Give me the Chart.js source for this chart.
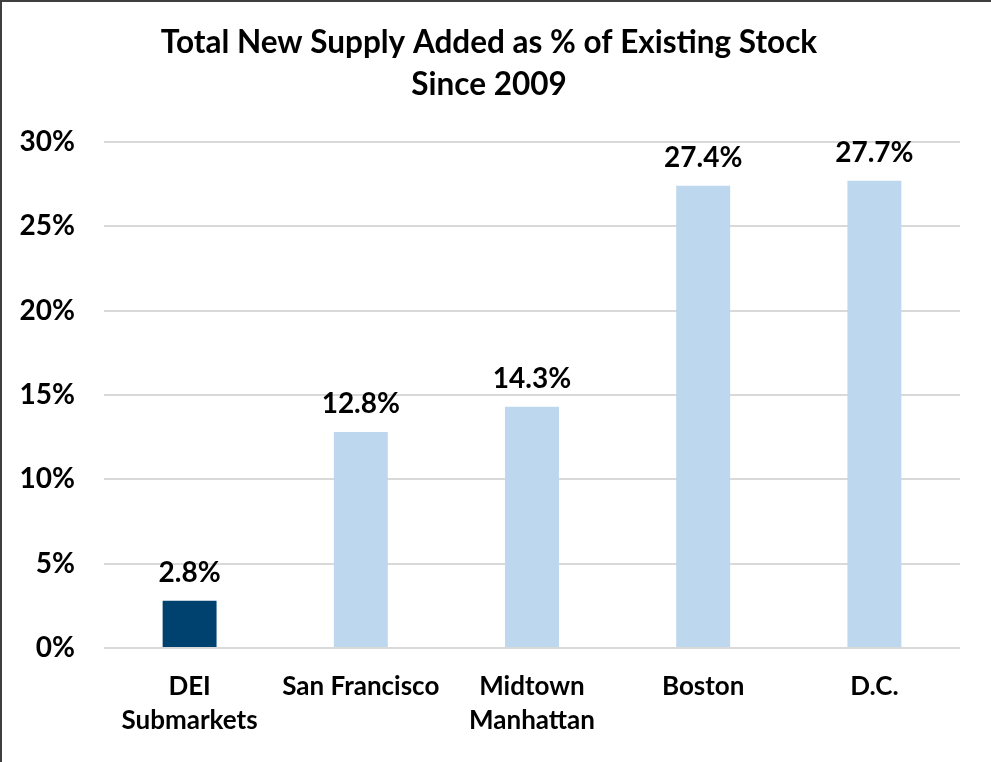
<!DOCTYPE html>
<html>
<head>
<meta charset="utf-8">
<script src="https://cdn.jsdelivr.net/npm/chart.js"></script>
<style>
  html, body { margin: 0; padding: 0; background: #fff; }
  #wrap { width: 991px; height: 762px; box-sizing: border-box; border-left: 2px solid #3f3f3f; border-top: 2px solid #3f3f3f; position: relative; }
  canvas { display: block; }
</style>
</head>
<body>
<div id="wrap"><canvas id="chart" width="989" height="760"></canvas></div>
<script>
// chart data
const categories = [['DEI', 'Submarkets'], 'San Francisco', ['Midtown', 'Manhattan'], 'Boston', 'D.C.'];
const supplyPct = [2.8, 12.8, 14.3, 27.4, 27.7];
const barColors = ['#00426F', '#BDD7EE', '#BDD7EE', '#BDD7EE', '#BDD7EE'];
const yTicks = [0, 5, 10, 15, 20, 25, 30];

const fontFamily = 'Lato, "Open Sans", sans-serif';

// draws the value over each bar
const barLabels = {
    id: 'barLabels',
    afterDatasetsDraw(chart) {
        const ctx = chart.ctx;
        const meta = chart.getDatasetMeta(0);
        ctx.save();
        ctx.font = 'bold 28px ' + fontFamily;
        ctx.fillStyle = '#000';
        ctx.textAlign = 'center';
        ctx.textBaseline = 'alphabetic';
        meta.data.forEach((bar, i) => {
            ctx.fillText(supplyPct[i].toFixed(1) + '%', bar.x, bar.y - 19);
        });
        ctx.restore();
    }
};

new Chart(document.getElementById('chart').getContext('2d'), {
    type: 'bar',
    data: {
        labels: categories,
        datasets: [{
            data: supplyPct,
            backgroundColor: barColors,
            barPercentage: 0.315,
            categoryPercentage: 1,
        }],
    },
    options: {
        responsive: false,
        animation: false,
        layout: { padding: { left: 16, right: 31, top: 6, bottom: 24 } },
        plugins: {
            legend: { display: false },
            tooltip: { enabled: false },
            title: {
                display: true,
                text: ['Total New Supply Added as % of Existing Stock', 'Since 2009'],
                color: '#000',
                font: { family: fontFamily, size: 31.5, weight: 'bold', lineHeight: 1.333 },
                padding: { top: 14, bottom: 36 },
            },
        },
        scales: {
            x: {
                grid: { display: false },
                border: { display: false },
                afterFit: (axis) => { axis.height = 90; },
                ticks: {
                    color: '#000',
                    font: { family: fontFamily, size: 26, weight: 'bold', lineHeight: 1.3 },
                    padding: 14,
                    maxRotation: 0,
                    autoSkip: false,
                },
            },
            y: {
                min: 0,
                max: 30,
                afterBuildTicks: (axis) => { axis.ticks = yTicks.map(v => ({ value: v })); },
                afterFit: (axis) => { axis.width = 86; },
                grid: { color: '#D9D9D9', lineWidth: 2, drawTicks: false },
                border: { display: false },
                ticks: {
                    color: '#000',
                    font: { family: fontFamily, size: 28, weight: 'bold' },
                    padding: 29,
                    callback: (v) => v + '%',
                },
            },
        },
    },
    plugins: [barLabels],
});
</script>
</body>
</html>
